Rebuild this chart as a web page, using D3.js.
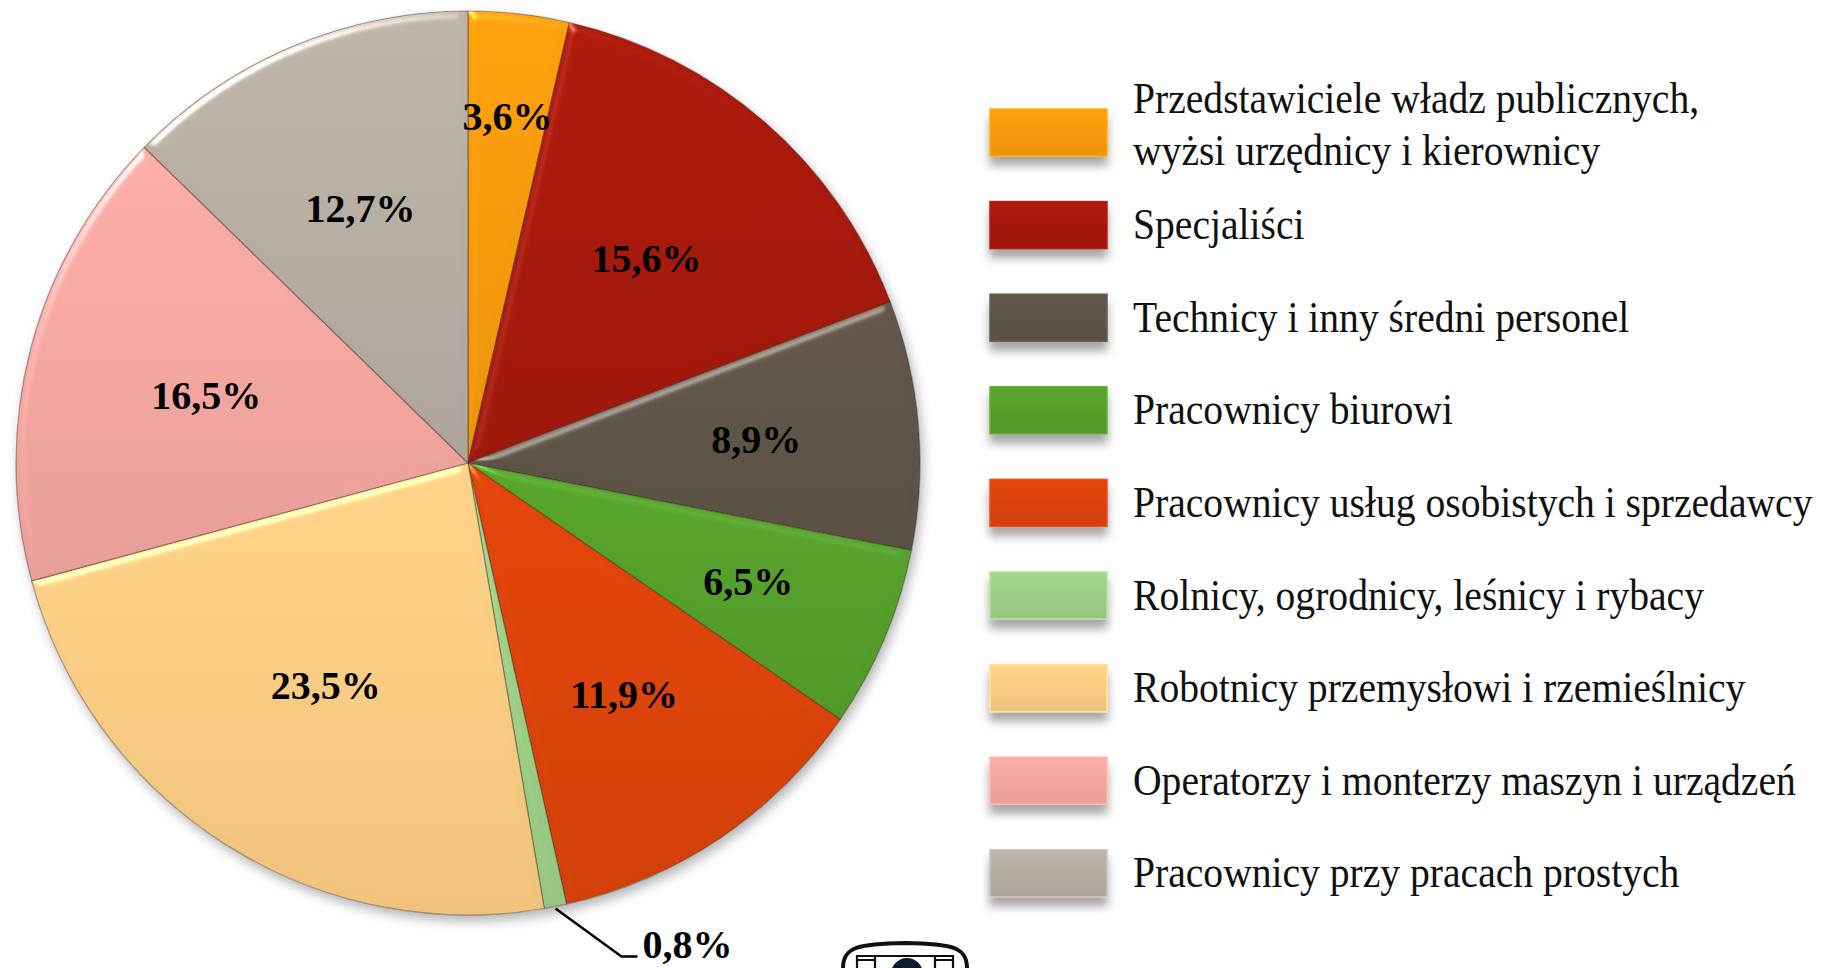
<!DOCTYPE html>
<html>
<head>
<meta charset="utf-8">
<script src="https://d3js.org/d3.v7.min.js"></script>
<style>
body { margin: 0; background: #fff; }
svg { display: block; }
.lbl { font-family: "Liberation Serif", "Times New Roman", serif; font-weight: bold; font-size: 40px; fill: #000; }
.leg text { font-family: "Liberation Serif", "Times New Roman", serif; font-size: 44px; fill: #111; }
</style>
</head>
<body>
<svg id="chart" width="1821" height="968"></svg>
<script>
// shares of employed by occupation group (%), clockwise from 12 o'clock
var groups = [
  "Przedstawiciele władz publicznych,\nwyżsi urzędnicy i kierownicy",
  "Specjaliści",
  "Technicy i inny średni personel",
  "Pracownicy biurowi",
  "Pracownicy usług osobistych i sprzedawcy",
  "Rolnicy, ogrodnicy, leśnicy i rybacy",
  "Robotnicy przemysłowi i rzemieślnicy",
  "Operatorzy i monterzy maszyn i urządzeń",
  "Pracownicy przy pracach prostych"
];
var shares = [3.6, 15.6, 8.9, 6.5, 11.9, 0.8, 23.5, 16.5, 12.7];
var colors = ["#F99B0C", "#A7190C", "#5F5447", "#55A02B", "#DC440A", "#9DD086", "#FDCD84", "#F5A7A1", "#B7AEA4"];

var svg = d3.select("#chart");
var defs = svg.append("defs");

var cx = 468, cy = 463, R = 452;

// soft shadow under the pie and the legend boxes
var sh = defs.append("filter").attr("id", "shadow")
  .attr("x", "-10%").attr("y", "-10%").attr("width", "130%").attr("height", "140%");
sh.append("feDropShadow").attr("dx", 3).attr("dy", 6).attr("stdDeviation", 6)
  .attr("flood-color", "#000").attr("flood-opacity", 0.3);

var sh2 = defs.append("filter").attr("id", "boxshadow")
  .attr("x", "-20%").attr("y", "-30%").attr("width", "140%").attr("height", "190%");
sh2.append("feDropShadow").attr("dx", 0).attr("dy", 9).attr("stdDeviation", 5)
  .attr("flood-color", "#000").attr("flood-opacity", 0.35);

// bevel look on every slice (kept in sRGB so colours don't wash out)
var bv = defs.append("filter").attr("id", "bevel")
  .attr("color-interpolation-filters", "sRGB")
  .attr("x", "-5%").attr("y", "-5%").attr("width", "110%").attr("height", "110%");
bv.append("feGaussianBlur").attr("in", "SourceAlpha").attr("stdDeviation", 5).attr("result", "blur");
var spec = bv.append("feSpecularLighting").attr("in", "blur").attr("surfaceScale", 5)
  .attr("specularConstant", 0.6).attr("specularExponent", 30)
  .attr("lighting-color", "#ffffff").attr("result", "spec");
spec.append("feDistantLight").attr("azimuth", 235).attr("elevation", 30);
bv.append("feComposite").attr("in", "spec").attr("in2", "SourceAlpha").attr("operator", "in").attr("result", "specOut");
bv.append("feComposite").attr("in", "SourceGraphic").attr("in2", "specOut")
  .attr("operator", "arithmetic").attr("k1", 0).attr("k2", 1).attr("k3", 0.6).attr("k4", 0);

// vertical gradient per colour
colors.forEach(function(c, i) {
  var g = defs.append("linearGradient").attr("id", "grad" + i)
    .attr("x1", 0).attr("y1", 0).attr("x2", 0).attr("y2", 1);
  g.append("stop").attr("offset", "0%").attr("stop-color", d3.color(c).brighter(0.1));
  g.append("stop").attr("offset", "100%").attr("stop-color", d3.color(c).darker(0.15));
});

var pie = d3.pie().sort(null).value(function(d) { return d; });
var arcs = pie(shares);
var arc = d3.arc().innerRadius(0).outerRadius(R);

var pg = svg.append("g").attr("transform", "translate(" + cx + "," + cy + ")");
var shadowLayer = pg.append("g").attr("filter", "url(#shadow)");
shadowLayer.append("circle").attr("r", R).attr("fill", "#fff");

pg.selectAll("path.slice")
  .data(arcs)
  .enter().append("path")
    .attr("class", "slice")
    .attr("d", arc)
    .attr("fill", function(d, i) { return "url(#grad" + i + ")"; })
    .attr("filter", "url(#bevel)")
    .attr("stroke", "rgba(50,30,20,0.4)")
    .attr("stroke-width", 1.2);

// labels: narrower slices get their label further out
function labelPos(d) {
  var a = (d.startAngle + d.endAngle) / 2;
  var r = R * (0.55 + 0.8 / d.value);
  return [Math.sin(a) * r, -Math.cos(a) * r];
}

arcs.forEach(function(d) {
  var txt = String(d.value).replace(".", ",") + "%";
  if (d.value < 2) {
    // tiny slice: leader line out to the label
    var a = (d.startAngle + d.endAngle) / 2;
    var p0 = [Math.sin(a) * R, -Math.cos(a) * R + 2];
    var p1 = [p0[0] + 66, p0[1] + 48];
    var p2 = [p1[0] + 16, p1[1]];
    pg.append("path")
      .attr("d", d3.line()([p0, p1, p2]))
      .attr("fill", "none").attr("stroke", "#000").attr("stroke-width", 2.5);
    pg.append("text").attr("class", "lbl")
      .attr("x", p2[0] + 5).attr("y", p2[1])
      .attr("dy", "0.05em")
      .text(txt);
  } else {
    var p = labelPos(d);
    pg.append("text").attr("class", "lbl")
      .attr("x", p[0]).attr("y", p[1])
      .attr("text-anchor", "middle").attr("dy", "0.35em")
      .text(txt);
  }
});

// legend
var legX = 990, legTop = 109, legStep = 92.6, boxW = 117, boxH = 47;
var leg = svg.append("g").attr("class", "leg");
groups.forEach(function(name, i) {
  var y = legTop + i * legStep;
  leg.append("rect")
    .attr("x", legX).attr("y", y).attr("width", boxW).attr("height", boxH)
    .attr("fill", "url(#grad" + i + ")")
    .attr("stroke", d3.color(colors[i]).brighter(0.3))
    .attr("stroke-width", 1.5)
    .attr("filter", "url(#boxshadow)");
  var lines = name.split("\n");
  var mid = y + boxH / 2;
  lines.forEach(function(line, j) {
    var base = lines.length === 1 ? mid + 14 : mid - 20 + j * 52;
    leg.append("text")
      .attr("transform", "translate(" + (legX + 143) + "," + base + ") scale(0.9,1)")
      .text(line);
  });
});

// partial emblem cut off at the bottom edge
var logo = svg.append("g").attr("transform", "translate(905,968)");
logo.append("path")
  .attr("d", "M-62,0 C-62,-22 -45,-24 0,-25 C45,-24 62,-22 62,0")
  .attr("fill", "none").attr("stroke", "#111").attr("stroke-width", 4);
logo.append("path")
  .attr("d", "M-48,2 L-48,-12 L48,-12 L48,2 M-30,-12 L-30,2 M30,-12 L30,2 M-48,-8 L-30,-8 M30,-8 L48,-8")
  .attr("fill", "none").attr("stroke", "#111").attr("stroke-width", 2.2);
logo.append("circle").attr("cx", 2).attr("cy", 6).attr("r", 16).attr("fill", "#0d1a2b");
</script>
</body>
</html>
